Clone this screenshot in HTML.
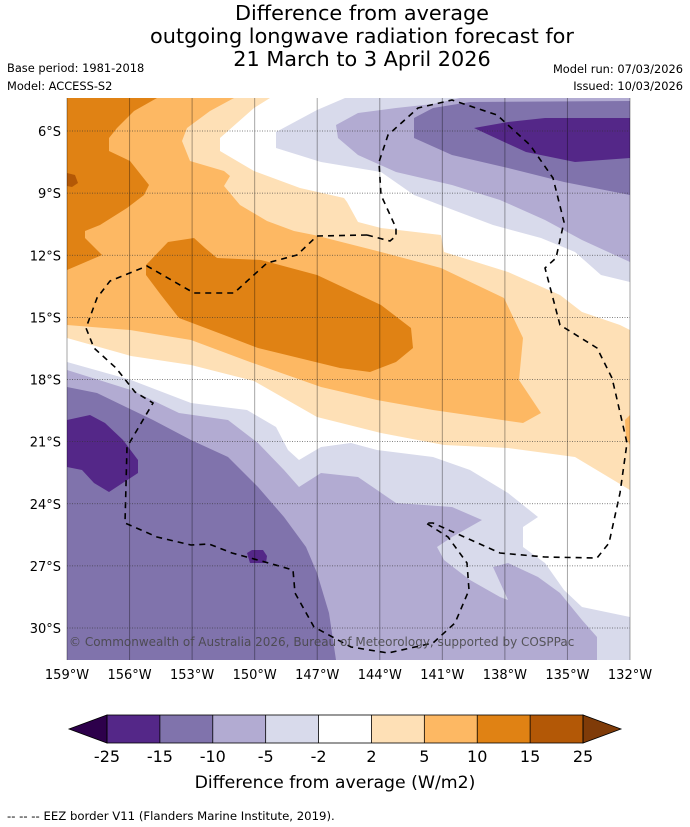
<!DOCTYPE html>
<html><head><meta charset="utf-8"><style>
body{margin:0;background:#fff;}
#wrap{position:relative;width:690px;height:827px;overflow:hidden;font-family:"DejaVu Sans","Liberation Sans",sans-serif;}
svg text{font-family:"DejaVu Sans","Liberation Sans",sans-serif;}
</style></head><body>
<div id="wrap">
<svg id="svg" width="690" height="827" xmlns="http://www.w3.org/2000/svg" style="position:absolute;left:0;top:0">
<g font-size="20.8" text-anchor="middle" fill="#000">
<text x="362" y="20">Difference from average</text>
<text x="362" y="43">outgoing longwave radiation forecast for</text>
<text x="362" y="66">21 March to 3 April 2026</text>
</g>
<g font-size="11.4" fill="#000">
<text x="7" y="72">Base period: 1981-2018</text>
<text x="7" y="90">Model: ACCESS-S2</text>
<text x="683" y="73" text-anchor="end">Model run: 07/03/2026</text>
<text x="683" y="90" text-anchor="end">Issued: 10/03/2026</text>
</g>
<defs><clipPath id="mapclip"><rect x="67" y="98" width="563" height="562"/></clipPath></defs>
<g id="map" clip-path="url(#mapclip)">
<rect x="67" y="98" width="563" height="562" fill="#ffffff"/>
</g>
<g id="grid"></g>
<g id="axes" font-size="13" fill="#000"></g>
<text x="69" y="646" font-size="12" fill="#444" fill-opacity="0.85">© Commonwealth of Australia 2026, Bureau of Meteorology, supported by COSPPac</text>
<g id="cbar"></g>
<text x="335" y="788" font-size="17.3" text-anchor="middle">Difference from average (W/m2)</text>
<text x="7" y="820" font-size="11.7">--  --  -- EEZ border V11 (Flanders Marine Institute, 2019).</text>
</svg>
</div>
<script>
// Colour bar data
const levels = [-25,-15,-10,-5,-2,2,5,10,15,25];
const bandColors = ['#542788','#8073ac','#b2abd2','#d8daeb','#ffffff','#fee0b6','#fdb863','#e08214','#b35806'];
const lonTicks = [-159,-156,-153,-150,-147,-144,-141,-138,-135,-132];
const latTicks = [-6,-9,-12,-15,-18,-21,-24,-27,-30];

// Map axis functions
const xOf = lon => 67 + (lon + 159) * (563 / 27);
const yOf = lat => 131 + (-6 - lat) * (497 / 24);
const NS = 'http://www.w3.org/2000/svg';
function mk(tag, attrs, parent){ const e=document.createElementNS(NS,tag); for(const k in attrs) e.setAttribute(k,attrs[k]); parent.appendChild(e); return e; }

// contour outlines (map frame outline coordinates)
const contourFills = [
 ['band-2-5','#fee0b6',[[67,98],[270,98],[254,108],[220,138],[220,151],[254,171],[300,188],[344,198],[347,202],[358,222],[381,228],[441,235],[444,252],[508,272],[560,295],[582,312],[620,325],[630,330],[630,490],[610,478],[575,457],[508,448],[444,445],[381,433],[317,417],[254,381],[191,365],[131,356],[67,338]]],
 ['band-5-10','#fdb863',[[67,98],[234,98],[210,111],[187,128],[182,141],[190,161],[224,171],[230,176],[224,186],[240,205],[267,221],[294,231],[314,235],[381,252],[441,268],[504,298],[523,338],[519,380],[541,413],[523,423],[433,410],[377,400],[321,387],[250,362],[191,340],[130,330],[67,325]]],
 ['band-5-10-edge','#fdb863',[[625,420],[630,415],[630,445],[626,438]]],
 ['band-10-15-west','#e08214',[[67,98],[157,98],[134,111],[117,128],[109,138],[109,151],[130,161],[149,185],[144,195],[127,208],[100,225],[85,231],[85,238],[102,255],[67,270]]],
 ['band-10-15-centre','#e08214',[[146,265],[168,242],[194,238],[205,248],[217,258],[261,260],[317,275],[381,305],[411,328],[413,348],[396,362],[370,372],[340,368],[299,358],[258,348],[224,335],[179,318],[161,295],[146,275]]],
 ['band-15-25','#b35806',[[67,173],[75,175],[78,183],[72,187],[67,186]]],
 ['band-n2-north','#d8daeb',[[345,98],[317,110],[276,132],[276,148],[321,162],[381,172],[414,195],[448,208],[493,225],[541,238],[575,252],[601,275],[630,282],[630,98]]],
 ['band-n5-north','#b2abd2',[[460,98],[433,104],[396,108],[358,113],[336,125],[338,138],[358,155],[396,172],[452,185],[500,200],[545,220],[582,240],[630,262],[630,98]]],
 ['band-n10-north','#8073ac',[[414,118],[433,108],[470,102],[630,101],[630,195],[564,182],[508,168],[452,155],[414,138]]],
 ['band-n15-north','#542788',[[474,128],[508,122],[545,118],[630,118],[630,158],[575,162],[526,152],[489,135]]],
 ['band-n2-south','#d8daeb',[[67,362],[131,380],[191,403],[247,410],[276,427],[288,450],[299,460],[321,447],[351,443],[377,450],[433,457],[470,470],[508,493],[538,517],[523,527],[523,547],[545,563],[564,590],[582,607],[630,617],[630,660],[67,660]]],
 ['band-n5-south','#b2abd2',[[67,370],[131,390],[179,413],[228,420],[258,443],[284,470],[299,487],[321,473],[358,477],[396,503],[452,507],[482,520],[452,537],[437,547],[444,560],[470,580],[500,597],[508,600],[493,567],[508,563],[538,577],[560,593],[582,620],[597,637],[597,660],[67,660]]],
 ['band-n10-south','#8073ac',[[67,387],[97,393],[153,420],[191,440],[228,457],[258,487],[284,517],[306,547],[317,573],[329,613],[336,660],[67,660]]],
 ['band-n15-west','#542788',[[67,420],[90,415],[105,423],[123,440],[138,460],[138,473],[109,492],[94,483],[82,470],[67,467]]],
 ['band-n15-small','#542788',[[247,553],[252,550],[263,550],[267,556],[266,563],[250,563]]]
];
const map = document.getElementById('map');
contourFills.forEach(c=>{
  const p = mk('polygon',{points:c[2].map(q=>q.join(',')).join(' '),fill:c[1]},map);
  
  
});
// EEZ border
const eez = [[367,235],[390,241],[396,236],[396,228],[381,195],[379,162],[388,135],[418,108],[452,100],[497,115],[530,145],[553,178],[564,222],[556,258],[545,268],[560,325],[597,348],[612,378],[616,395],[627,443],[620,493],[609,543],[597,558],[545,557],[500,553],[433,523],[426,523]];
const eez2 = [[367,235],[317,236],[297,255],[267,263],[234,293],[194,293],[147,266],[110,281],[97,298],[86,328],[94,348],[116,368],[135,392],[153,403],[127,447],[125,523],[157,537],[191,545],[209,544],[232,553],[265,562],[293,570],[295,593],[314,627],[351,647],[388,653],[433,643],[455,623],[469,590],[467,563],[448,537],[426,523]];
[eez,eez2].forEach((l,i)=>{
  const p = mk('polyline',{points:l.map(q=>q.join(',')).join(' '),fill:'none',stroke:'#000','stroke-width':1.6,'stroke-dasharray':'6,5'},map);
  
  
});
// grid & axes
const grid=document.getElementById('grid'), axes=document.getElementById('axes');
lonTicks.forEach(lon=>{
  const x=xOf(lon);
  const l=mk('line',{x1:x,x2:x,y1:98,y2:660,stroke:'#000','stroke-opacity':0.35,'stroke-width':1},grid);
  
  
  const t=mk('text',{x:x,y:679,'text-anchor':'middle'},axes);
  t.textContent=Math.abs(lon)+'°W';
  
  
});
latTicks.forEach(lat=>{
  const y=yOf(lat);
  const l=mk('line',{x1:67,x2:630,y1:y,y2:y,stroke:'#333','stroke-opacity':0.8,'stroke-width':0.8,'stroke-dasharray':'1,1.5'},grid);
  
  
  const t=mk('text',{x:61,y:y+5,'text-anchor':'end'},axes);
  t.textContent=Math.abs(lat)+'°S';
  
  
});
// colour bar
const cb=document.getElementById('cbar');
const cx0=107, cw=476/(levels.length-1), cy=715, ch=28;
const lt=mk('polygon',{points:`69,${cy+ch/2} ${cx0},${cy} ${cx0},${cy+ch}`,fill:'#2d004b',stroke:'#000','stroke-width':0.8},cb);


const rt=mk('polygon',{points:`621,${cy+ch/2} 583,${cy} 583,${cy+ch}`,fill:'#7f3b08',stroke:'#000','stroke-width':0.8},cb);


bandColors.forEach((c,i)=>{
  const r=mk('rect',{x:cx0+i*cw,y:cy,width:cw,height:ch,fill:c},cb);
  
  
});
mk('rect',{x:cx0,y:cy,width:476,height:ch,fill:'none',stroke:'#000','stroke-width':0.8},cb);
levels.forEach((v,i)=>{
  const x=cx0+i*cw;
  mk('line',{x1:x,x2:x,y1:cy,y2:cy+ch,stroke:'#000','stroke-width':0.8},cb);
  const t=mk('text',{x:x,y:762,'text-anchor':'middle','font-size':16},cb);
  t.textContent=v;
  
  
});
</script>
</body></html>
